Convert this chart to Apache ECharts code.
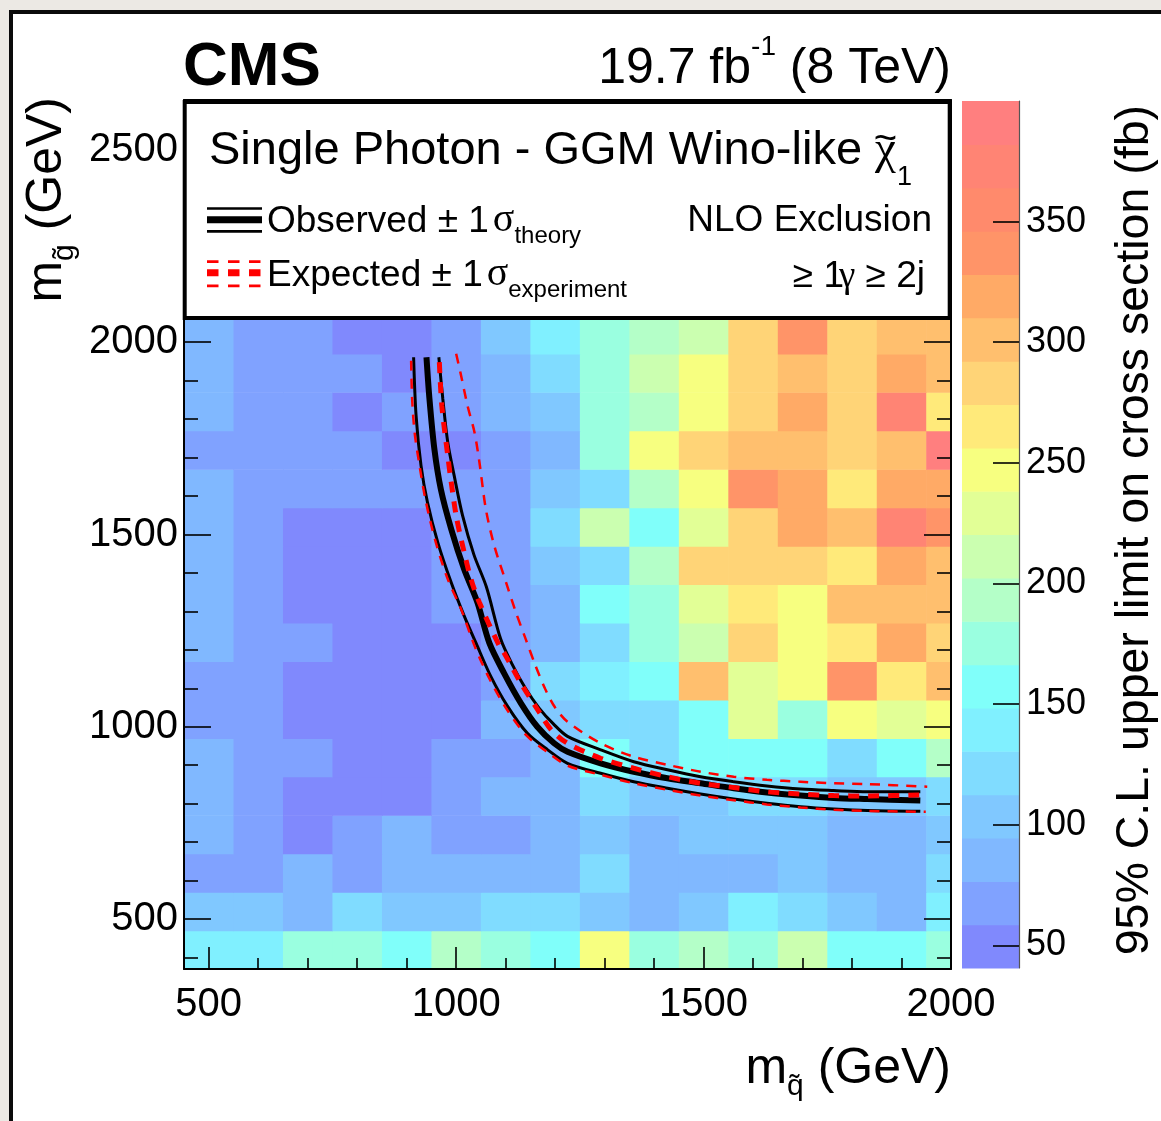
<!DOCTYPE html>
<html>
<head>
<meta charset="utf-8">
<script src="https://cdn.jsdelivr.net/npm/echarts@6/dist/echarts.min.js"></script>
<style>
  html, body { margin: 0; padding: 0; width: 1161px; height: 1121px; overflow: hidden; background: #ece9e4; }
  #sheet { position: absolute; left: 9px; top: 10px; width: 1300px; height: 1300px; background: #fff; border: 4px solid #0a0a0a; }
  #chart { position: absolute; left: 0; top: 0; width: 1161px; height: 1121px; }
</style>
</head>
<body>
<div id="sheet"></div>
<div id="chart"></div>
<script>
// ---- binning of the scan (bin centres, GeV) ----
const squarkMass = [500, 600, 700, 800, 900, 1000, 1100, 1200, 1300, 1400, 1500, 1600, 1700, 1800, 1900, 2000];
const gluinoMass = [420, 520, 620, 720, 820, 920, 1020, 1120, 1220, 1320, 1420, 1520, 1620, 1720, 1820, 1920, 2020];

// ---- 95% CL upper limit on the cross section (fb); one row per gluino mass ----
const upperLimit = [
  [142, 137, 178, 173, 155, 196, 176, 160, 249, 172, 191, 178, 214, 158, 153, 180],
  [101, 106,  84, 120, 103,  99, 124, 118, 105,  88, 102, 140, 122, 100,  83, 136],
  [ 66,  70,  87,  64,  82,  89,  85,  80, 123,  86,  91,  84, 102,  88,  79, 126],
  [ 83,  69,  54,  66,  88,  63,  71,  86, 107,  81,  98, 104, 110,  90,  85,  97],
  [ 87,  64,  50,  47,  52,  72,  83,  91, 119, 101, 108, 127, 116,  99, 104, 121],
  [ 85,  68,  62,  55,  48,  70,  66,  89, 160, 125, 153, 158, 162, 118, 156, 190],
  [ 72,  65,  51,  46,  53,  49,  84, 106, 117, 124, 151, 226, 171, 250, 232, 244],
  [ 67,  73,  48,  52,  45,  56,  63, 121, 138, 163, 303, 224, 253, 338, 268, 297],
  [ 90,  66,  71,  50,  47,  55,  69,  82, 128, 179, 208, 285, 246, 261, 322, 279],
  [ 86,  70,  52,  44,  49,  67,  61,  92, 155, 170, 235, 271, 243, 307, 296, 300],
  [ 84,  63,  47,  51,  54,  71,  68, 100, 115, 199, 280, 288, 283, 259, 316, 305],
  [ 88,  68,  49,  46,  53,  65,  72, 126, 205, 150, 222, 276, 325, 295, 370, 343],
  [ 82,  72,  65,  61,  69,  74,  66,  97, 114, 188, 252, 331, 313, 272, 318, 326],
  [ 73,  69,  64,  70,  50,  57,  75,  93, 168, 241, 277, 299, 309, 290, 302, 394],
  [ 89,  60,  67,  53,  64,  73,  81, 108, 183, 186, 255, 287, 312, 280, 377, 263],
  [ 79,  71,  63,  68,  56,  62,  86, 114, 174, 217, 244, 287, 308, 276, 320, 298],
  [ 88,  70,  61,  52,  45,  64, 104, 138, 169, 195, 212, 282, 336, 284, 301, 306]
];

// ---- exclusion contours [m_squark, m_gluino] (GeV) ----
const observed = [[940,1961],[946,1853],[956,1722],[969,1618],[990,1514],[1016,1410],[1043,1323],[1067,1218],[1097,1139],[1131,1061],[1164,1000],[1198,957],[1225,935],[1292,905],[1359,883],[1427,866],[1494,853],[1561,840],[1628,829],[1696,821],[1763,815],[1831,812],[1938,808]];
const observedUp = [[965,1961],[973,1853],[983,1740],[996,1653],[1013,1549],[1036,1447],[1061,1364],[1090,1228],[1113,1163],[1140,1100],[1168,1048],[1196,1008],[1225,975],[1292,940],[1359,909],[1427,888],[1494,870],[1561,857],[1628,846],[1696,838],[1763,834],[1831,831],[1938,831]];
const observedDown = [[914,1961],[919,1809],[929,1679],[942,1584],[963,1479],[990,1375],[1016,1289],[1040,1218],[1070,1131],[1104,1053],[1144,983],[1185,940],[1225,905],[1292,879],[1359,857],[1427,840],[1494,825],[1561,812],[1628,801],[1696,792],[1763,786],[1831,782],[1938,780]];
const expected = [[966,1948],[971,1835],[983,1705],[990,1636],[1000,1549],[1013,1471],[1030,1384],[1047,1323],[1087,1211],[1097,1192],[1131,1113],[1165,1044],[1192,992],[1225,957],[1292,918],[1359,892],[1427,870],[1494,853],[1561,842],[1628,831],[1696,825],[1763,821],[1831,820],[1949,823]];
const expectedUp = [[1000,1970],[1010,1913],[1023,1835],[1037,1766],[1047,1688],[1060,1566],[1077,1471],[1101,1375],[1120,1300],[1140,1230],[1160,1160],[1180,1098],[1200,1050],[1225,1013],[1292,957],[1359,922],[1427,901],[1494,883],[1561,870],[1628,862],[1696,857],[1763,853],[1831,851],[1952,844]];
const expectedDown = [[909,1952],[911,1853],[916,1766],[926,1679],[939,1584],[959,1479],[983,1384],[1010,1306],[1037,1211],[1066,1128],[1100,1050],[1140,980],[1182,936],[1225,899],[1292,875],[1359,853],[1427,836],[1494,821],[1561,809],[1628,798],[1696,790],[1763,784],[1831,781],[1949,779]];

// ---- axis ticks ----
const xMajor = [500, 1000, 1500, 2000];
const xMinor = [600, 700, 800, 900, 1100, 1200, 1300, 1400, 1600, 1700, 1800, 1900];
const yMajor = [500, 1000, 1500, 2000, 2500];
const yMinor = [400, 600, 700, 800, 900, 1100, 1200, 1300, 1400, 1600, 1700, 1800, 1900, 2100, 2200, 2300, 2400, 2600];
const zTicks = [50, 100, 150, 200, 250, 300, 350];

// ---- colour palette (20 contours, low to high) ----
const palette = ['#8089fd','#80a2ff','#80b8ff','#80c8ff','#80dcff','#80f0ff','#80fffa','#9affe0','#b4ffc8','#cbffb0',
                 '#e2ff96','#f7ff80','#ffea7a','#ffd477','#ffbf6e','#ffaa66','#ff9468','#ff8a6c','#ff8474','#ff7f7f'];
const zMin = 40.6, zMax = 400;

const X_RANGE = [450, 2000], Y_RANGE = [370, 2630], BIN = 100;
const SANS = "'Liberation Sans', Arial, Helvetica, sans-serif";
const SERIF = "'Liberation Serif', 'Times New Roman', serif";

const step = (zMax - zMin) / palette.length;
const bands = palette.map((c, i) => [zMin + i * step, zMin + (i + 1) * step, i]);

const cells = [];
gluinoMass.forEach((gy, i) => squarkMass.forEach((sx, j) => cells.push([sx, gy, upperLimit[i][j]])));

// ---- text helpers: runs of text placed on a common baseline ----
const mctx = document.createElement('canvas').getContext('2d');
const MID = 0.276; // distance from canvas 'middle' to alphabetic baseline, in em
function fontOf(r) { return (r.italic ? 'italic ' : '') + (r.weight || 'normal') + ' ' + r.size + 'px ' + (r.family || SANS); }
function widthOf(r) { mctx.font = fontOf(r); return mctx.measureText(r.text).width; }
function runs(list, x, baseline, align) {
  const w = list.map(r => widthOf(r) + (r.dx || 0));
  const total = w.reduce((a, b) => a + b, 0);
  let cx = align === 'right' ? x - total : x;
  return list.map((r, i) => {
    const el = {
      type: 'text', z: 101,
      x: cx + (r.dx || 0), y: baseline + (r.dy || 0) - MID * r.size,
      style: { text: r.text, font: fontOf(r), fill: '#000', textAlign: 'left', textVerticalAlign: 'middle', align: 'left', verticalAlign: 'middle' }
    };
    cx += w[i];
    return el;
  });
}
// a wide tilde accent centred over a glyph
function tildeOver(el, size, yCentre) {
  mctx.font = el.style.font;
  const cx = el.x + mctx.measureText(el.style.text).width / 2;
  return { type: 'text', z: 101, x: cx, y: yCentre,
           style: { text: '~', font: size + 'px ' + SANS, fill: '#000', textAlign: 'center', textVerticalAlign: 'middle', align: 'center', verticalAlign: 'middle' } };
}
function hline(x1, x2, y, width, dash) {
  return { type: 'line', z: 101, shape: { x1, y1: y, x2, y2: y },
           style: { stroke: dash ? '#ff0000' : '#000', lineWidth: width, lineDash: dash || null } };
}

function curve(data, color, width, dash, z) {
  return { type: 'line', xAxisIndex: 0, yAxisIndex: 0, data, symbol: 'none', showSymbol: false, smooth: 0.3,
           silent: true, z, clip: true, lineStyle: { color, width, type: dash || 'solid', cap: 'butt' } };
}

const titleRuns = runs([{ text: 'Single Photon - GGM Wino-like ', size: 47 }, { text: '\u03c7', size: 47, family: SERIF },
                        { text: '1', size: 27, dy: 21, dx: 1 }], 209, 164, 'left');
const chiTilde = tildeOver(titleRuns[1], 40, 140);

const axisText = { color: '#000', fontFamily: SANS, formatter: v => String(v) };
const chart = echarts.init(document.getElementById('chart'), null, { renderer: 'canvas' });
chart.setOption({
  animation: false,
  grid: [
    { left: 184, top: 100, width: 767, height: 869 },
    { left: 962, top: 101, width: 57, height: 867 }
  ],
  xAxis: [
    { gridIndex: 0, type: 'value', min: X_RANGE[0], max: X_RANGE[1], position: 'bottom', z: 10,
      axisLine: { show: true, onZero: false, lineStyle: { color: '#000', width: 2 } },
      axisTick: { show: true, inside: true, length: 22, customValues: xMajor, lineStyle: { color: '#000', width: 1.6 } },
      axisLabel: { show: true, customValues: xMajor, margin: 16, fontSize: 40, ...axisText },
      splitLine: { show: false } },
    { gridIndex: 0, type: 'value', min: X_RANGE[0], max: X_RANGE[1], position: 'bottom', z: 10,
      axisLine: { show: false },
      axisTick: { show: true, inside: true, length: 11, customValues: xMinor, lineStyle: { color: '#000', width: 1.6 } },
      axisLabel: { show: false }, splitLine: { show: false } },
    { gridIndex: 0, type: 'value', min: X_RANGE[0], max: X_RANGE[1], position: 'top', z: 10,
      axisLine: { show: true, onZero: false, lineStyle: { color: '#000', width: 2 } },
      axisTick: { show: false }, axisLabel: { show: false }, splitLine: { show: false } },
    { gridIndex: 1, type: 'value', min: 0, max: 1, show: false }
  ],
  yAxis: [
    { gridIndex: 0, type: 'value', min: Y_RANGE[0], max: Y_RANGE[1], position: 'left', z: 10,
      axisLine: { show: true, onZero: false, lineStyle: { color: '#000', width: 2 } },
      axisTick: { show: true, inside: true, length: 27, customValues: yMajor, lineStyle: { color: '#000', width: 1.6 } },
      axisLabel: { show: true, customValues: yMajor, margin: 6, fontSize: 40, ...axisText },
      splitLine: { show: false } },
    { gridIndex: 0, type: 'value', min: Y_RANGE[0], max: Y_RANGE[1], position: 'left', z: 10,
      axisLine: { show: false },
      axisTick: { show: true, inside: true, length: 14, customValues: yMinor, lineStyle: { color: '#000', width: 1.6 } },
      axisLabel: { show: false }, splitLine: { show: false } },
    { gridIndex: 0, type: 'value', min: Y_RANGE[0], max: Y_RANGE[1], position: 'right', z: 10,
      axisLine: { show: true, onZero: false, lineStyle: { color: '#000', width: 2 } },
      axisTick: { show: true, inside: true, length: 27, customValues: yMajor, lineStyle: { color: '#000', width: 1.6 } },
      axisLabel: { show: false }, splitLine: { show: false } },
    { gridIndex: 0, type: 'value', min: Y_RANGE[0], max: Y_RANGE[1], position: 'right', z: 10,
      axisLine: { show: false },
      axisTick: { show: true, inside: true, length: 14, customValues: yMinor, lineStyle: { color: '#000', width: 1.6 } },
      axisLabel: { show: false }, splitLine: { show: false } },
    { gridIndex: 1, type: 'value', min: zMin, max: zMax, position: 'right', z: 10,
      axisLine: { show: true, onZero: false, lineStyle: { color: '#555', width: 1.2 } },
      axisTick: { show: true, inside: true, length: 26, customValues: zTicks, lineStyle: { color: '#000', width: 1.6 } },
      axisLabel: { show: true, customValues: zTicks, margin: 7, fontSize: 36, ...axisText },
      splitLine: { show: false } }
  ],
  visualMap: {
    type: 'piecewise', show: false, seriesIndex: 0, dimension: 2,
    pieces: bands.map(b => ({ gte: b[0], lt: b[1], color: palette[b[2]] }))
  },
  series: [
    { type: 'custom', xAxisIndex: 0, yAxisIndex: 0, data: cells, z: 2, silent: true,
      encode: { x: 0, y: 1 },
      renderItem(params, api) {
        const x = api.value(0), y = api.value(1);
        const a = api.coord([x - BIN / 2, y + BIN / 2]);
        const b = api.coord([x + BIN / 2, y - BIN / 2]);
        const cs = params.coordSys;
        const shape = echarts.graphic.clipRectByRect(
          { x: a[0], y: a[1], width: b[0] - a[0] + 0.6, height: b[1] - a[1] + 0.6 },
          { x: cs.x, y: cs.y, width: cs.width, height: cs.height });
        return shape && { type: 'rect', shape, style: { fill: api.visual('color') } };
      } },
    { type: 'custom', xAxisIndex: 3, yAxisIndex: 4, data: bands, z: 2, silent: true,
      encode: { y: [0, 1] },
      renderItem(params, api) {
        const lo = api.coord([0, api.value(0)]);
        const hi = api.coord([1, api.value(1)]);
        return { type: 'rect', shape: { x: lo[0], y: hi[1], width: hi[0] - lo[0], height: lo[1] - hi[1] + 0.6 },
                 style: { fill: palette[api.value(2)] } };
      } },
    curve(observedUp, '#000', 3, null, 3),
    curve(observedDown, '#000', 3, null, 3),
    curve(observed, '#000', 6, null, 3),
    curve(expectedUp, '#ff0000', 2.5, [10, 8], 4),
    curve(expectedDown, '#ff0000', 2.5, [10, 8], 4),
    curve(expected, '#ff0000', 5, [11, 9], 4)
  ],
  graphic: [
    // header
    ...runs([{ text: 'CMS', size: 62, weight: 'bold' }], 183, 85, 'left'),
    ...runs([{ text: '19.7 fb', size: 50 }, { text: '-1', size: 28, dy: -28 }, { text: ' (8 TeV)', size: 50 }], 951, 83, 'right'),
    // axis titles
    { type: 'group', x: 61, y: 97, rotation: Math.PI / 2,
      children: runs([{ text: 'm', size: 50 }, { text: 'g\u0303', size: 30, dy: 12 }, { text: ' (GeV)', size: 50 }], 0, 0, 'right') },
    ...runs([{ text: 'm', size: 50 }, { text: 'q\u0303', size: 30, dy: 12 }, { text: ' (GeV)', size: 50 }], 951, 1083, 'right'),
    { type: 'group', x: 1148, y: 105, rotation: Math.PI / 2,
      children: runs([{ text: '95% C.L. upper limit on cross section (fb)', size: 46.5 }], 0, 0, 'right') },
    // legend box
    { type: 'rect', z: 100, shape: { x: 184.7, y: 102, width: 765, height: 216 },
      style: { fill: '#fff', stroke: '#000', lineWidth: 4 } },
    ...titleRuns, chiTilde,
    hline(207, 262, 208.5, 2.7), hline(207, 262, 219.7, 7), hline(207, 262, 231.3, 2.7),
    hline(207, 262, 261.7, 2.7, [11.5, 9.5]), hline(207, 262, 272.8, 7, [11.5, 9.5]), hline(207, 262, 285.8, 2.7, [11.5, 9.5]),
    ...runs([{ text: 'Observed \u00b1 1', size: 37 }, { text: '\u03c3', size: 40, family: SERIF, dx: 4 }, { text: 'theory', size: 24, dy: 11 }], 267, 232, 'left'),
    ...runs([{ text: 'Expected \u00b1 1', size: 37 }, { text: '\u03c3', size: 40, family: SERIF, dx: 4 }, { text: 'experiment', size: 24, dy: 11 }], 267, 286, 'left'),
    ...runs([{ text: 'NLO Exclusion', size: 37 }], 932, 231, 'right'),
    ...runs([{ text: '\u2265 1', size: 37 }, { text: '\u03b3', size: 37, family: SERIF, dx: -5 }, { text: ' \u2265 2j', size: 37 }], 925, 287, 'right')
  ]
});
</script>
</body>
</html>
